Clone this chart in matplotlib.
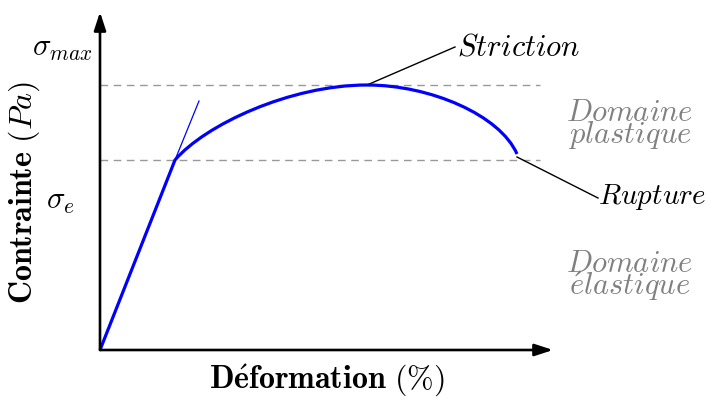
import matplotlib
matplotlib.use("Agg")
import matplotlib.pyplot as plt
from matplotlib.patches import FancyArrowPatch, ArrowStyle, PathPatch
from matplotlib.path import Path

plt.rcParams["mathtext.fontset"] = "cm"
plt.rcParams["font.family"] = ["DejaVu Serif"]

# Stress-strain curve (arbitrary units)
# elastic part: straight line up to the yield point
elastic_strain = [0.0, 0.75]
elastic_stress = [0.0, 1.90]
# plastic part: two cubic Bezier segments (yield -> max, max -> rupture)
hardening_strain = [0.75, 1.05, 1.90, 2.67]
hardening_stress = [1.90, 2.25, 2.65, 2.65]
necking_strain = [2.67, 3.30, 4.00, 4.17]
necking_stress = [2.65, 2.65, 2.35, 1.96]

tangent_strain = [0.75, 0.99]
tangent_stress = [1.90, 2.49]

sigma_e = 1.90
sigma_max = 2.65
striction = (2.67, 2.65)
rupture = (4.17, 1.93)

fig = plt.figure(figsize=(7.07, 4.0), dpi=100)
ax = fig.add_axes([0, 0, 1, 1])
ax.set_xlim(-1.0, 6.07)
ax.set_ylim(-0.5, 3.5)
ax.axis("off")

# Reference levels
dash = (0, (5.5, 4))
for level in (sigma_e, sigma_max):
    ax.plot([0, 4.40], [level, level], color="#999999", lw=1.0, linestyle=dash, zorder=1)

# Axes with arrow heads
head = ArrowStyle("-|>", head_length=1.1, head_width=0.36)
for end in [(4.53, 0.0), (0.0, 3.38)]:
    ax.add_patch(FancyArrowPatch((0, 0), end, arrowstyle=head, mutation_scale=10,
                                 lw=1.9, color="black", shrinkA=0, shrinkB=0, zorder=4))

# Curve
ax.plot(tangent_strain, tangent_stress, color="#0000ff", lw=0.9, zorder=3)
verts = (list(zip(elastic_strain, elastic_stress))
         + list(zip(hardening_strain[1:], hardening_stress[1:]))
         + list(zip(necking_strain[1:], necking_stress[1:])))
codes = [Path.MOVETO, Path.LINETO] + [Path.CURVE4] * 6
ax.add_patch(PathPatch(Path(verts, codes), facecolor="none", edgecolor="#0000ff",
                       lw=2.3, capstyle="butt", joinstyle="round", zorder=3))

# Annotations
fs = 22
ax.plot([striction[0], 3.55], [striction[1], 3.03], color="black", lw=1.0, zorder=2)
ax.text(3.57, 3.03, r"$Striction$", fontsize=fs, ha="left", va="center")
ax.plot([rupture[0], 4.98], [rupture[1], 1.52], color="black", lw=1.0, zorder=2)
ax.text(4.98, 1.53, r"$Rupture$", fontsize=21, ha="left", va="center")

ax.text(-0.07, 3.03, r"$\sigma_{max}$", fontsize=fs, ha="right", va="center")
ax.text(-0.25, 1.50, r"$\sigma_e$", fontsize=fs, ha="right", va="center")

gray = "#808080"
ax.text(5.30, 2.26, r"$Domaine$" + "\n" + r"$plastique$", fontsize=fs, ha="center",
        va="center", color=gray, linespacing=0.66)
ax.text(5.30, 0.745, r"$Domaine$" + "\n" + r"$\acute{e}lastique$", fontsize=fs, ha="center",
        va="center", color=gray, linespacing=0.66)

ax.text(2.27, -0.31, r"$\mathbf{D\acute{e}formation}\ (\%)$", fontsize=23,
        ha="center", va="center")
ax.text(-0.76, 1.57, r"$\mathbf{Contrainte}\ (Pa)$", fontsize=23,
        ha="center", va="center", rotation=90)

fig.savefig("out.png", dpi=100)
